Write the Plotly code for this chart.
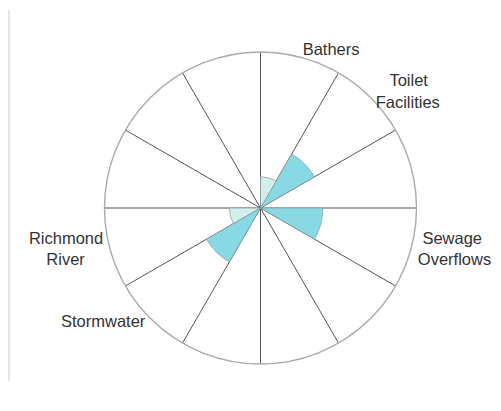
import plotly.graph_objects as go

NB = "\u00a0"  # non-breaking space, used to centre the shorter line of two-line labels

# Sector centres (degrees, counter-clockwise from east), 30-degree sectors
sector_theta = [15, 45, 75, 105, 135, 165, 195, 225, 255, 285, 315, 345]
sector_names = ["", NB * 3 + "Toilet<br>Facilities", "Bathers", "", "", "",
                "Richmond<br>River" + NB * 4, "Stormwater", "", "", "",
                NB + "Sewage<br>Overflows"]
sector_values = [0, 2, 1, 0, 0, 0, 1, 2, 0, 0, 0, 2]
label_positions = ["middle right", "middle right", "middle right", "middle left",
                   "middle left", "middle left", "middle left", "middle left",
                   "middle right", "middle right", "middle right", "middle right"]
value_colors = {1: "#d0efeb", 2: "#88d9e4"}
radial_max = 5
label_r = 5.22
spoke_angles = [0, 30, 60, 90, 120, 150, 180, 210, 240, 270, 300, 330]

# layout geometry (pixels in the figure; the page adds an 8px body margin)
W, H = 493, 395
CX, CY, R = 252.5, 200.0, 156.0
R2 = R * label_r / radial_max


def dom(radius):
    return dict(x=[(CX - radius) / W, (CX + radius) / W],
                y=[(H - CY - radius) / H, (H - CY + radius) / H])


bars_theta = [t for t, v in zip(sector_theta, sector_values) if v > 0]
bars_r = [v for v in sector_values if v > 0]
bars_col = [value_colors[v] for v in bars_r]

lab_theta = [t for t, n in zip(sector_theta, sector_names) if n]
lab_text = [n for n in sector_names if n]
lab_pos = [p for p, n in zip(label_positions, sector_names) if n]

fig = go.Figure()
fig.add_trace(go.Barpolar(
    r=bars_r, theta=bars_theta, width=30,
    marker=dict(color=bars_col, line=dict(color="#8a9a9c", width=0.7)),
    hoverinfo="skip", showlegend=False, subplot="polar",
))
fig.add_trace(go.Scatterpolar(
    r=[label_r] * len(lab_theta), theta=lab_theta, mode="text",
    text=lab_text, textposition=lab_pos, cliponaxis=False,
    textfont=dict(family="Liberation Sans, Arial, sans-serif", size=16.5, color="#333333"),
    hoverinfo="skip", showlegend=False, subplot="polar2",
))

fig.update_layout(
    width=W, height=H,
    margin=dict(l=0, r=0, t=0, b=0),
    paper_bgcolor="white",
    showlegend=False,
    polar=dict(
        domain=dom(R),
        bgcolor="white",
        radialaxis=dict(visible=False, range=[0, radial_max], showgrid=False),
        angularaxis=dict(
            tickmode="array", tickvals=spoke_angles,
            showticklabels=False, ticks="",
            showgrid=True, gridcolor="#555555", gridwidth=1.3,
            showline=True, linecolor="#aaaaaa", linewidth=1.4,
            direction="counterclockwise", rotation=0,
        ),
    ),
    polar2=dict(
        domain=dom(R2),
        bgcolor="rgba(0,0,0,0)",
        radialaxis=dict(visible=False, range=[0, label_r], showgrid=False),
        angularaxis=dict(visible=False, showgrid=False, showline=False,
                         direction="counterclockwise", rotation=0),
    ),
    shapes=[dict(type="line", xref="paper", yref="paper",
                 x0=1 / W, x1=1 / W, y0=1 - 2 / H, y1=1 - 373 / H,
                 line=dict(color="#cccccc", width=1))],
)

fig.write_html("out.html")
